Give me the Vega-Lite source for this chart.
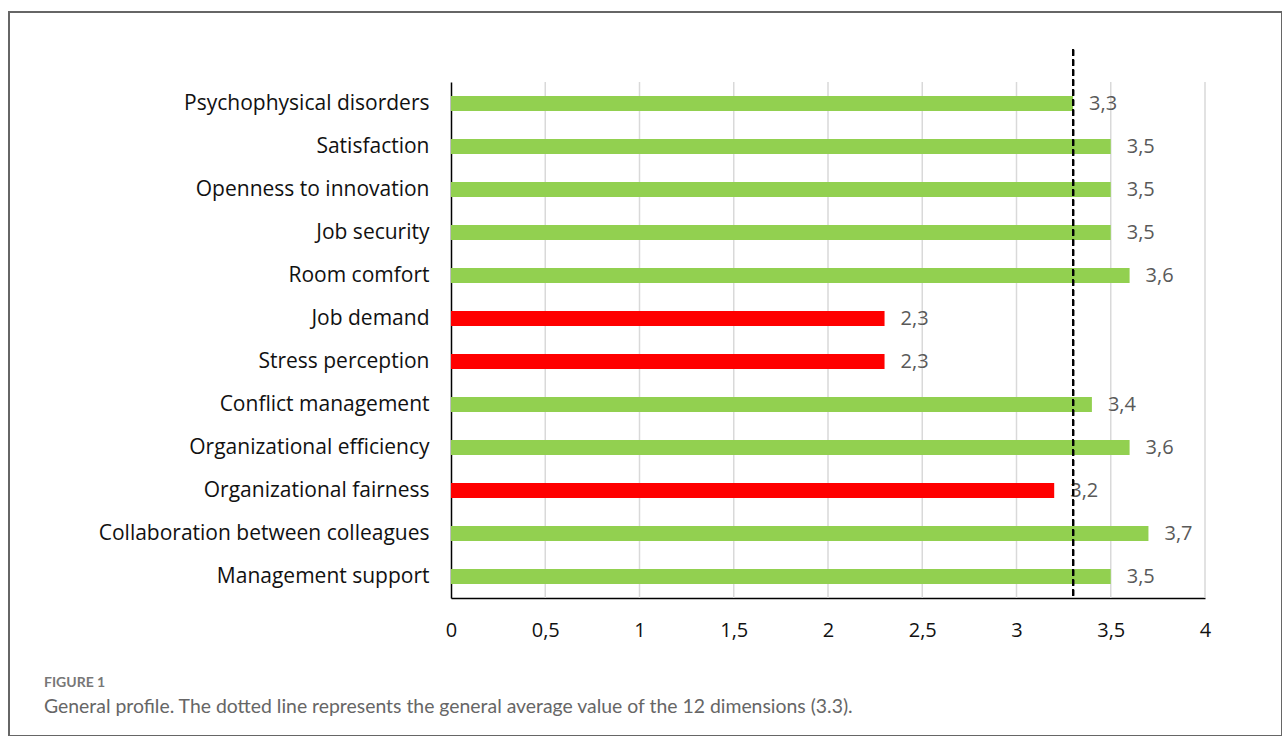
{
  "$schema": "https://vega.github.io/schema/vega-lite/v6.json",
  "width": 1273,
  "height": 724,
  "autosize": {"type": "none"},
  "padding": {"left": 9, "top": 12, "right": 0, "bottom": 0},
  "background": "white",
  "config": {
    "view": {"stroke": "#666666", "strokeWidth": 2},
    "font": "Open Sans",
    "locale": {"number": {"decimal": ",", "thousands": ".", "grouping": [3], "currency": ["", " €"]}}
  },
  "title": {
    "text": "FIGURE 1",
    "subtitle": "General profile. The dotted line represents the general average value of the 12 dimensions (3.3).",
    "orient": "bottom",
    "anchor": "start",
    "frame": "group",
    "offset": -60,
    "dx": 35,
    "font": "Lato",
    "fontSize": 14,
    "fontWeight": "bold",
    "color": "#777777",
    "subtitleFont": "Lato",
    "subtitleFontSize": 19.4,
    "subtitleColor": "#666666",
    "subtitlePadding": 8
  },
  "datasets": {
    "scores": [
      {"dimension": "Psychophysical disorders", "score": 3.3, "group": "above"},
      {"dimension": "Satisfaction", "score": 3.5, "group": "above"},
      {"dimension": "Openness to innovation", "score": 3.5, "group": "above"},
      {"dimension": "Job security", "score": 3.5, "group": "above"},
      {"dimension": "Room comfort", "score": 3.6, "group": "above"},
      {"dimension": "Job demand", "score": 2.3, "group": "below"},
      {"dimension": "Stress perception ", "score": 2.3, "group": "below"},
      {"dimension": "Conflict management", "score": 3.4, "group": "above"},
      {"dimension": "Organizational efficiency", "score": 3.6, "group": "above"},
      {"dimension": "Organizational fairness", "score": 3.2, "group": "below"},
      {"dimension": "Collaboration between colleagues", "score": 3.7, "group": "above"},
      {"dimension": "Management support", "score": 3.5, "group": "above"}
    ],
    "gridlines": [
      {"tick": 0.5}, {"tick": 1}, {"tick": 1.5}, {"tick": 2}, {"tick": 2.5},
      {"tick": 3}, {"tick": 3.5}, {"tick": 4}
    ]
  },
  "data": {"name": "scores"},
  "layer": [
    {
      "data": {"name": "gridlines"},
      "mark": {"type": "rule", "color": "#d9d9d9", "strokeWidth": 1.5},
      "encoding": {
        "x": {"field": "tick", "type": "quantitative"},
        "y": {"datum": "Psychophysical disorders", "bandPosition": 0},
        "y2": {"datum": "Management support", "bandPosition": 1}
      }
    },
    {
      "mark": {"type": "bar", "height": {"band": 0.35}},
      "encoding": {
        "y": {
          "field": "dimension",
          "type": "nominal",
          "sort": null,
          "scale": {
            "domain": [
              "Psychophysical disorders", "Satisfaction", "Openness to innovation", "Job security",
              "Room comfort", "Job demand", "Stress perception ", "Conflict management",
              "Organizational efficiency", "Organizational fairness",
              "Collaboration between colleagues", "Management support"
            ],
            "range": [70, 586],
            "paddingInner": 0,
            "paddingOuter": 0
          },
          "axis": {
            "title": null,
            "offset": -442,
            "grid": false,
            "ticks": false,
            "tickSize": 0,
            "domainColor": "#000000",
            "domainWidth": 1.5,
            "labelFont": "Open Sans",
            "labelFontSize": 21,
            "labelColor": "#111111",
            "labelPadding": 22,
            "labelLimit": 0
          }
        },
        "x": {
          "field": "score",
          "type": "quantitative",
          "scale": {"domain": [0, 4], "range": [442, 1196], "nice": false},
          "axis": {
            "title": null,
            "values": [0, 0.5, 1, 1.5, 2, 2.5, 3, 3.5, 4],
            "format": ".1~f",
            "offset": -138,
            "grid": false,
            "ticks": false,
            "tickSize": 0,
            "domainColor": "#000000",
            "domainWidth": 1.5,
            "labelFont": "Open Sans",
            "labelFontSize": 20,
            "labelColor": "#111111",
            "labelPadding": 22,
            "labelFlush": false
          }
        },
        "color": {
          "field": "group",
          "type": "nominal",
          "scale": {"domain": ["above", "below"], "range": ["#92d050", "#ff0000"]},
          "legend": null
        }
      }
    },
    {
      "mark": {"type": "text", "align": "left", "baseline": "middle", "dx": 16, "fontSize": 20, "font": "Open Sans", "color": "#595959"},
      "encoding": {
        "y": {"field": "dimension", "type": "nominal", "sort": null},
        "x": {"field": "score", "type": "quantitative"},
        "text": {"field": "score", "type": "quantitative", "format": ".1f"}
      }
    },
    {
      "mark": {"type": "rule", "strokeDash": [6, 4], "strokeWidth": 2, "color": "#000000"},
      "encoding": {
        "x": {"datum": 3.3},
        "y": {"datum": "Psychophysical disorders", "bandPosition": -0.75},
        "y2": {"datum": "Management support", "bandPosition": 1}
      }
    }
  ]
}
